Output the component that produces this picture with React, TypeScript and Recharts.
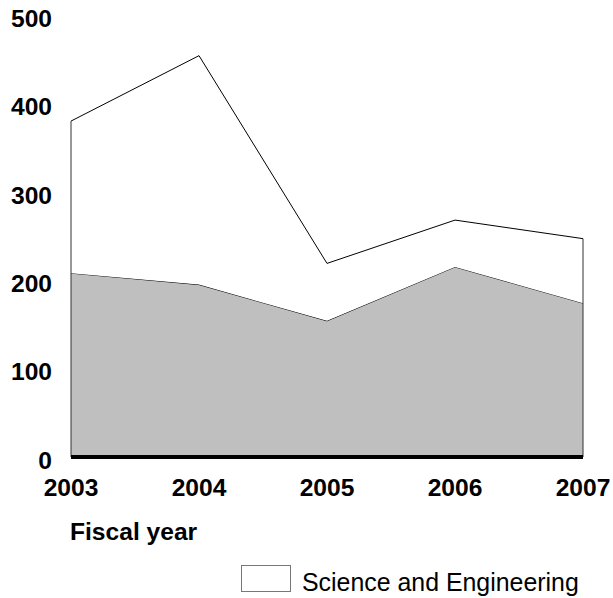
import React from 'react';
import { AreaChart, Area, XAxis, YAxis, Legend, ReferenceLine, Label } from 'recharts';

const years = ['2003', '2004', '2005', '2006', '2007'];
const otherFields = [208, 195, 154, 215, 174];
const scienceEngineering = [172, 259, 65, 53, 73];
const yTicks = [0, 100, 200, 300, 400, 500];

const data = years.map((year, i) => ({
  year,
  other: otherFields[i],
  se: scienceEngineering[i],
  total: otherFields[i] + scienceEngineering[i],
}));

const FONT = '"Liberation Sans", Arial, Helvetica, sans-serif';

const renderLegend = (props: any) => {
  const items = (props.payload || []).filter((p: any) => p.value === 'Science and Engineering');
  return (
    <div>
      {items.map((p: any) => (
        <svg key={p.value} width={370} height={34} style={{ display: 'block' }}>
          <rect x={0.5} y={0.5} width={49} height={26} fill="#ffffff" stroke="#777777" strokeWidth={1} />
          <text x={61} y={26} fontFamily={FONT} fontSize={24.9} fill="#000">
            {p.value}
          </text>
        </svg>
      ))}
    </div>
  );
};

export default function App() {
  const first = data[0];
  const last = data[data.length - 1];
  return (
    <div style={{ position: 'absolute', left: 0, top: 0, width: 613, height: 598 }}>
      <AreaChart
        width={613}
        height={598}
        data={data}
        margin={{ top: 15, right: 30, left: 0, bottom: 51 }}
      >
        <Area
          type="linear"
          dataKey="other"
          name="Other"
          stackId="a"
          stroke="#000"
          strokeWidth={1}
          fill="#bfbfbf"
          fillOpacity={1}
          isAnimationActive={false}
          dot={false}
          activeDot={false}
        />
        <Area
          type="linear"
          dataKey="se"
          name="Science and Engineering"
          stackId="a"
          stroke="#000"
          strokeWidth={1}
          fill="#ffffff"
          fillOpacity={1}
          isAnimationActive={false}
          dot={false}
          activeDot={false}
        />
        <ReferenceLine
          segment={[{ x: first.year, y: 0 }, { x: first.year, y: first.total }]}
          stroke="#333"
          strokeWidth={1}
        />
        <ReferenceLine
          segment={[{ x: last.year, y: 0 }, { x: last.year, y: last.total }]}
          stroke="#333"
          strokeWidth={1}
        />
        <YAxis
          type="number"
          domain={[0, 500]}
          ticks={yTicks}
          width={71}
          axisLine={false}
          tickLine={false}
          tickSize={0}
          tickMargin={19}
          tick={{ fontFamily: FONT, fontSize: 24.6, fontWeight: 'bold', fill: '#000', dy: 3 }}
          interval={0}
        />
        <XAxis
          dataKey="year"
          height={90}
          axisLine={{ stroke: '#000', strokeWidth: 4 }}
          tickLine={false}
          tickSize={0}
          tickMargin={22}
          interval={0}
          tick={{ fontFamily: FONT, fontSize: 24.6, fontWeight: 'bold', fill: '#000' }}
        >
          <Label
            content={(props: any) => {
              const vb = props.viewBox || {};
              return (
                <text
                  x={(vb.x || 0) - 1}
                  y={(vb.y || 0) + 83}
                  fontFamily={FONT}
                  fontSize={24.6}
                  fontWeight="bold"
                  fill="#000"
                >
                  Fiscal year
                </text>
              );
            }}
          />
        </XAxis>
        <Legend
          layout="vertical"
          verticalAlign="middle"
          align="center"
          content={renderLegend}
          wrapperStyle={{ position: 'absolute', left: 241, top: 565, width: 370, height: 34 }}
        />
      </AreaChart>
    </div>
  );
}
